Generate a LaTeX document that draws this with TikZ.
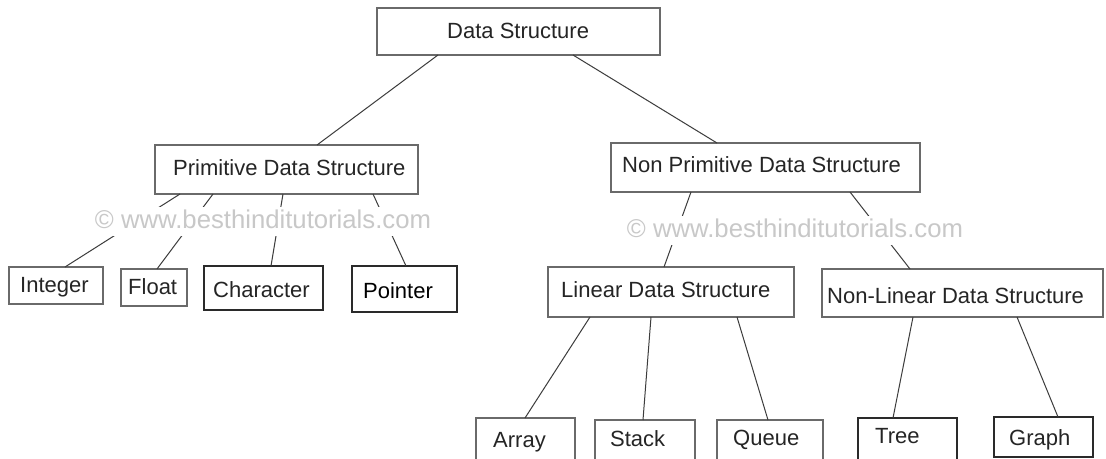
\documentclass[tikz,border=0pt]{standalone}
\usepackage{fontspec}
\setmainfont{Liberation Sans}
\usetikzlibrary{calc,fit}
\definecolor{boxgray}{HTML}{6A6A6A}
\definecolor{boxdark}{HTML}{2A2A2A}
\definecolor{ink}{HTML}{252525}
\definecolor{wire}{HTML}{3C3C3C}
\definecolor{wmgray}{HTML}{C8C8C8}
\begin{document}
\begin{tikzpicture}[x=1pt, y=-1pt,
  box/.style={draw=boxgray, line width=1.2pt, inner sep=0pt, outer sep=0pt},
  darkbox/.style={box, draw=boxdark, line width=1.4pt},
  lbl/.style={anchor=base west, inner sep=0pt, text=ink, font=\fontsize{22}{26}\selectfont},
  conn/.style={draw=wire, line width=1pt},
  wmark/.style={fill=white, text=wmgray, inner xsep=4pt, inner ysep=2pt,
    text height=20pt, text depth=5pt, font=\fontsize{25.7}{30}\selectfont}]
\useasboundingbox (0,0) rectangle (1106,458);
\fill[white] (0,0) rectangle (1106,458);
\clip (0,0) rectangle (1106,458);

% boxes (outlines only; labels are set separately)
\node[box, fit={(377,8) (660,55)}] (ds) {};
\node[box, fit={(155,145) (418,194)}] (prim) {};
\node[box, fit={(611,143) (920,192)}] (np) {};
\node[box, fit={(9,267) (103,304)}] (int) {};
\node[box, fit={(121,269) (187,306)}] (flt) {};
\node[darkbox, fit={(204,266) (323,310)}] (chr) {};
\node[darkbox, fit={(352,266) (457,312)}] (ptr) {};
\node[box, fit={(548,267) (794,317)}] (lin) {};
\node[box, fit={(822,269) (1103,317)}] (nlin) {};
\node[box, fit={(476,418) (575,470)}] (arr) {};
\node[box, fit={(595,420) (695,470)}] (stk) {};
\node[box, fit={(717,420) (823,470)}] (que) {};
\node[darkbox, fit={(858,418) (957,470)}] (tree) {};
\node[darkbox, fit={(994,417) (1093,457)}] (graph) {};

% labels
\node[lbl] (ds-t)    at (447,38)  {Data Structure};
\node[lbl] (prim-t)  at (173,175) {Primitive Data Structure};
\node[lbl] (np-t)    at (622,172) {Non Primitive Data Structure};
\node[lbl] (int-t)   at (20,292)  {Integer};
\node[lbl] (flt-t)   at (128,294) {Float};
\node[lbl] (chr-t)   at (213,297) {Character};
\node[lbl, text=black] (ptr-t) at (363,298) {Pointer};
\node[lbl] (lin-t)   at (561,297) {Linear Data Structure};
\node[lbl] (nlin-t)  at (827,303) {Non-Linear Data Structure};
\node[lbl] (arr-t)   at (493,447) {Array};
\node[lbl] (stk-t)   at (610,446) {Stack};
\node[lbl] (que-t)   at (733,445) {Queue};
\node[lbl] (tree-t)  at (875,443) {Tree};
\node[lbl] (graph-t) at (1009,445) {Graph};

% connectors
\draw[conn] ($(ds.south west)+(61,0)$)    -- ($(prim.north west)+(162,0)$);
\draw[conn] ($(ds.south west)+(196,0)$)   -- ($(np.north west)+(106,0)$);
\draw[conn] ($(prim.south west)+(25,0)$)  -- ($(int.north west)+(56,0)$);
\draw[conn] ($(prim.south west)+(58,0)$)  -- ($(flt.north west)+(36,0)$);
\draw[conn] ($(prim.south west)+(128,0)$) -- ($(chr.north west)+(67,0)$);
\draw[conn] ($(prim.south west)+(218,0)$) -- ($(ptr.north west)+(54,0)$);
\draw[conn] ($(np.south west)+(80,0)$)    -- ($(lin.north west)+(116,0)$);
\draw[conn] ($(np.south west)+(239,0)$)   -- ($(nlin.north west)+(88,0)$);
\draw[conn] ($(lin.south west)+(42,0)$)   -- ($(arr.north west)+(49,0)$);
\draw[conn] ($(lin.south west)+(103,0)$)  -- ($(stk.north west)+(48,0)$);
\draw[conn] ($(lin.south west)+(189,0)$)  -- ($(que.north west)+(51,0)$);
\draw[conn] ($(nlin.south west)+(91,0)$)  -- ($(tree.north west)+(35,0)$);
\draw[conn] ($(nlin.south west)+(195,0)$) -- ($(graph.north west)+(64,0)$);

% copyright notices over the branches
\node[wmark] (wm1) at (263,221) {© www.besthinditutorials.com};
\node[wmark] (wm2) at (795,230) {© www.besthinditutorials.com};
\end{tikzpicture}
\end{document}
